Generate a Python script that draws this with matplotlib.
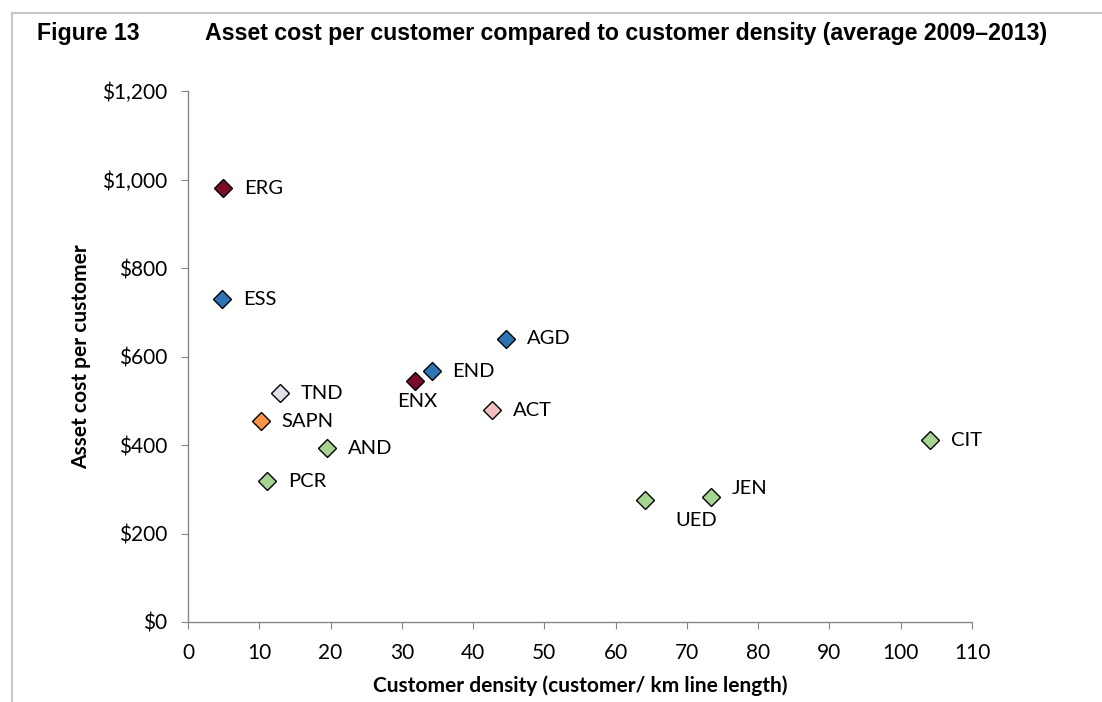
import matplotlib
matplotlib.use("Agg")
import matplotlib.pyplot as plt
import matplotlib.ticker as mtick
from matplotlib.lines import Line2D

# Data
names = ["ERG", "ESS", "AGD", "END", "ENX", "ACT", "TND", "SAPN", "AND", "PCR", "CIT", "JEN", "UED"]
density = [4.9, 4.8, 44.6, 34.2, 31.9, 42.7, 12.9, 10.2, 19.5, 11.1, 104.1, 73.4, 64.1]
cost = [981, 730, 640, 567, 545, 479, 517, 454, 393, 318, 411, 283, 276]
colors = ["#7B0B2A", "#2E75B6", "#2E75B6", "#2E75B6", "#7B0B2A", "#F4BFC0", "#E2DFEA",
          "#F79646", "#A6D592", "#A6D592", "#A6D592", "#A6D592", "#A6D592"]

# label offsets in points (dx, dy, ha, va)
label_pos = {
    "ENX": (1, -9, "center", "top"),
    "UED": (22, -9, "left", "top"),
    "JEN": (15, 6, "left", "center"),
}

text_font = ["Lato", "DejaVu Sans"]
title_font = ["Liberation Sans Narrow", "Liberation Sans", "DejaVu Sans"]

fig = plt.figure(figsize=(11.02, 7.02), dpi=100)
ax = fig.add_axes([0.1706, 0.114, 0.7114, 0.756])

for x, y, c in zip(density, cost, colors):
    ax.plot(x, y, marker="D", markersize=9, markerfacecolor=c,
            markeredgecolor="black", markeredgewidth=1.0, linestyle="none", zorder=3)

for n, x, y in zip(names, density, cost):
    dx, dy, ha, va = label_pos.get(n, (15, 0, "left", "center"))
    ax.annotate(n, (x, y), xytext=(dx, dy), textcoords="offset points",
                ha=ha, va=va, fontsize=14.5, family=text_font, color="black")

ax.set_xlim(0, 110)
ax.set_ylim(0, 1200)
ax.xaxis.set_major_locator(mtick.MultipleLocator(10))
ax.yaxis.set_major_locator(mtick.MultipleLocator(200))
ax.yaxis.set_major_formatter(mtick.FuncFormatter(lambda v, p: "${:,.0f}".format(v)))

for s in ["top", "right"]:
    ax.spines[s].set_visible(False)
for s in ["left", "bottom"]:
    ax.spines[s].set_color("#868686")
    ax.spines[s].set_linewidth(1.0)
ax.tick_params(axis="both", direction="out", length=5, color="#868686",
               labelsize=15, pad=10)
for lab in ax.get_xticklabels() + ax.get_yticklabels():
    lab.set_family(text_font)

ax.set_xlabel("Customer density (customer/ km line length)", fontsize=15,
              fontweight="bold", family=text_font, labelpad=9)
ax.set_ylabel("Asset cost per customer", fontsize=15, fontweight="bold",
              family=text_font, labelpad=8)

fig.text(0.034, 0.952, "Figure 13", fontsize=16.7, fontweight="bold",
         family=title_font, va="center", ha="left")
fig.text(0.186, 0.952, "Asset cost per customer compared to customer density (average 2009\u20132013)",
         fontsize=16.7, fontweight="bold", family=title_font, va="center", ha="left")

# light frame at the top and left edge
fig.add_artist(Line2D([0.011, 1.0], [0.981, 0.981], color="#C8C8C8", linewidth=1.5))
fig.add_artist(Line2D([0.011, 0.011], [0.0, 0.981], color="#C8C8C8", linewidth=1.5))

fig.savefig("out.png", dpi=100)
